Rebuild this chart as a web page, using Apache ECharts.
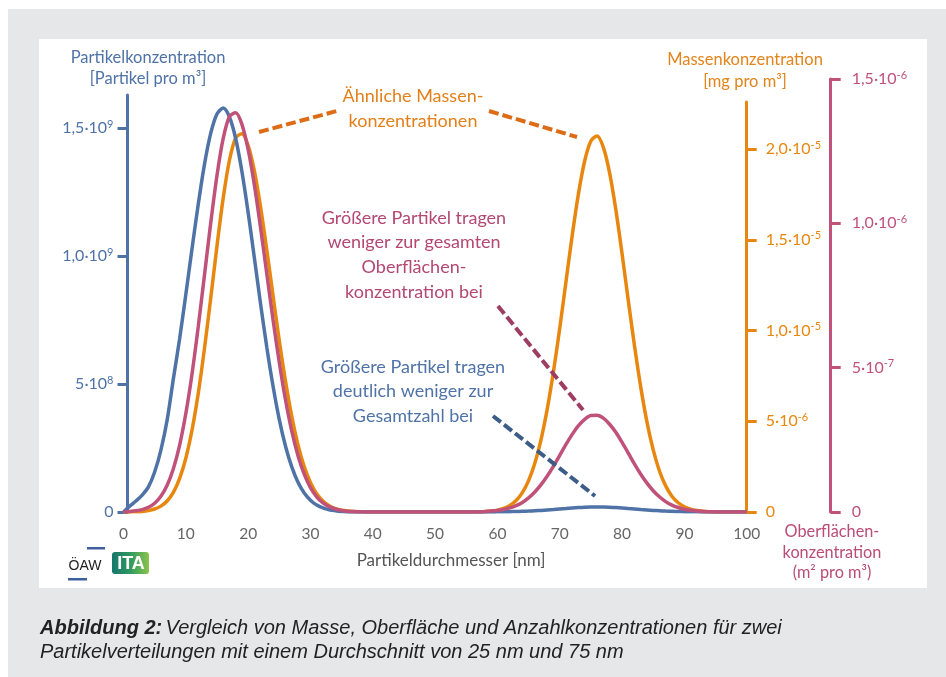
<!DOCTYPE html>
<html><head><meta charset="utf-8">
<script src="https://cdn.jsdelivr.net/npm/echarts@6/dist/echarts.min.js"></script>
<style>html,body{margin:0;padding:0;background:#fff}#c{width:946px;height:677px}</style>
</head><body><div id="c"></div>
<script>
// Particle diameter [nm]
const xValues = [0,1,2,3,4,5,6,7,8,9,10,11,12,13,14,15,16,17,18,19,20,21,22,23,24,25,26,27,28,29,30,31,32,33,34,35,36,37,38,39,40,41,42,43,44,45,46,47,48,49,50,51,52,53,54,55,56,57,58,59,60,61,62,63,64,65,66,67,68,69,70,71,72,73,74,75,76,77,78,79,80,81,82,83,84,85,86,87,88,89,90,91,92,93,94,95,96,97,98,99,100];
// Particle concentration, in units of 1e9 particles per m³
const countConc = [0,0.023,0.043,0.066,0.098,0.156,0.242,0.359,0.520,0.676,
 0.850,1.029,1.203,1.359,1.480,1.555,1.578,1.543,1.459,1.330,
 1.170,0.992,0.812,0.643,0.491,0.361,0.257,0.176,0.116,0.074,
 0.046,0.027,0.016,0.009,0.005,0.002,0,0,0,0,
 0,0,0,0,0,0,0,0,0,0,
 0,0,0,0,0,0,0,0,0,0,
 0.0005,0.0008,0.0012,0.0018,0.0027,0.0037,0.0049,0.0062,0.0080,0.0098,
 0.0118,0.0137,0.0156,0.0172,0.0185,0.0193,0.0195,0.0193,0.0185,0.0172,
 0.0156,0.0137,0.0118,0.0098,0.0080,0.0062,0.0049,0.0037,0.0027,0.0018,
 0.0013,0.0008,0.0005,0.0002,0,0,0,0,0,0,
 0];
// Mass concentration, in units of 1e-5 mg per m³
const massConc = [0,0.0006,0.0017,0.0033,0.0077,0.0165,0.0325,0.0606,0.1085,0.184,
 0.296,0.452,0.655,0.903,1.179,1.466,1.730,1.938,2.061,2.084,
 2.019,1.879,1.679,1.443,1.190,0.944,0.720,0.527,0.370,0.250,
 0.163,0.101,0.061,0.035,0.019,0.010,0.0055,0.0028,0.0011,0,
 0,0,0,0,0,0,0,0,0,0,
 0,0,0,0,0,0,0,0.001,0.0025,0.005,
 0.0105,0.0198,0.0364,0.0634,0.107,0.173,0.268,0.399,0.568,0.775,
 1.013,1.269,1.524,1.753,1.934,2.044,2.072,2.009,1.869,1.666,
 1.423,1.165,0.915,0.688,0.495,0.342,0.226,0.144,0.087,0.051,
 0.029,0.015,0.0077,0.0039,0.0017,0.0006,0,0,0,0,
 0];
// Surface concentration, in units of 1e-6 m² per m³
const surfConc = [0,0.0017,0.0042,0.0083,0.0163,0.0305,0.0544,0.0925,0.150,0.231,
 0.341,0.479,0.643,0.822,1.002,1.166,1.294,1.370,1.383,1.343,
 1.256,1.133,0.984,0.824,0.665,0.518,0.388,0.280,0.195,0.131,
 0.0845,0.0527,0.0315,0.0184,0.0104,0.0055,0.0028,0.0014,0.0007,0,
 0,0,0,0,0,0,0,0,0,0,
 0,0,0,0,0,0,0,0,0.0017,0.0035,
 0.0052,0.0087,0.0142,0.0222,0.0333,0.0488,0.0693,0.0946,0.1247,0.159,
 0.196,0.234,0.269,0.299,0.321,0.334,0.335,0.325,0.304,0.276,
 0.241,0.204,0.166,0.131,0.100,0.0738,0.0527,0.036,0.0239,0.0156,
 0.0097,0.0059,0.0035,0.0017,0.001,0.0003,0,0,0,0,
 0];

const xTicks = [0,10,20,30,40,50,60,70,80,90,100];
const countTicks = [0, 0.5, 1.0, 1.5];
const countTickLabels = [['0',''],['5·10','8'],['1,0·10','9'],['1,5·10','9']];
const massTicks = [0, 0.5, 1.0, 1.5, 2.0];
const massTickLabels = [['0',''],['5·10','-6'],['1,0·10','-5'],['1,5·10','-5'],['2,0·10','-5']];
const surfTicks = [0, 0.5, 1.0, 1.5];
const surfTickLabels = [['0',''],['5·10','-7'],['1,0·10','-6'],['1,5·10','-6']];

const BLUE = '#4f73a7', ORANGE = '#e8870f', PINK = '#c0527a';
const FONT = 'Lato';

function pairs(ys){ return xValues.map((x,i)=>[x, ys[i]]); }
function fmt(ticks, labels){
  return function(v){
    let i = ticks.findIndex(t => Math.abs(t - v) < 1e-9);
    if (i < 0) return '';
    const l = labels[i];
    return l[1] ? '{b|' + l[0] + '}{s|' + l[1] + '}' : '{b|' + l[0] + '}';
  };
}
function rich(c){
  return {
    b: {fontFamily: FONT, fontSize: 16, color: c, lineHeight: 19},
    s: {fontFamily: FONT, fontSize: 11, color: c, lineHeight: 12, verticalAlign: 'top'}
  };
}
const gridBase = {left: 123.5, right: 199.3, bottom: 165, outerBoundsMode: 'none'};

function yAx(grid, pos, max, ticks, labels, color, offset, margin){
  return {
    type: 'value', gridIndex: grid, position: pos, min: 0, max: max, offset: offset,
    axisLine: {show: true, onZero: false, lineStyle: {color: color, width: 3}},
    axisTick: {show: true, length: 10, lineStyle: {color: color, width: 3}, customValues: ticks},
    axisLabel: {show: true, margin: margin, customValues: ticks, formatter: fmt(ticks, labels), rich: rich(color)},
    splitLine: {show: false}
  };
}
function xAx(grid, show){
  return {
    type: 'value', gridIndex: grid, min: 0, max: 100, interval: 10, show: show,
    axisLine: {show: false, onZero: false}, axisTick: {show: false}, splitLine: {show: false},
    axisLabel: {show: show, margin: 14, color: '#666', fontFamily: FONT, fontSize: 15.5, customValues: xTicks}
  };
}
function dashed(color, p1, p2){
  return {
    silent: true, symbol: ['none','none'], label: {show: false},
    lineStyle: {color: color, width: 4, type: [10, 4]},
    data: [[{coord: p1}, {coord: p2}]]
  };
}

const option = {
  animation: false,
  backgroundColor: '#ffffff',
  grid: [
    Object.assign({top: 95}, gridBase),
    Object.assign({top: 102}, gridBase),
    Object.assign({top: 79}, gridBase)
  ],
  xAxis: [xAx(0, true), xAx(1, false), xAx(2, false)],
  yAxis: [
    yAx(0, 'left', 1.6289, countTicks, countTickLabels, BLUE, -4, 14),
    yAx(1, 'right', 2.259, massTicks, massTickLabels, ORANGE, 0, 19),
    yAx(2, 'right', 1.5, surfTicks, surfTickLabels, PINK, 84, 21)
  ],
  series: [
    {type: 'line', name: 'Masse', xAxisIndex: 1, yAxisIndex: 1, data: pairs(massConc), smooth: 0.3,
     showSymbol: false, lineStyle: {color: ORANGE, width: 3.5}, itemStyle: {color: ORANGE},
     markLine: {silent: true, symbol: ['none','none'], label: {show: false},
       lineStyle: {color: '#dc6c16', width: 4, type: [10, 4]},
       data: [[{coord: [21.74, 2.094]}, {coord: [34.26, 2.2095]}],
              [{coord: [58.65, 2.2095]}, {coord: [72.77, 2.066]}]]}},
    {type: 'line', name: 'Anzahl', xAxisIndex: 0, yAxisIndex: 0, data: pairs(countConc), smooth: 0.3,
     showSymbol: false, lineStyle: {color: BLUE, width: 3.5}, itemStyle: {color: BLUE},
     markLine: dashed('#3d5d88', [59.29, 0.375], [75.66, 0.0625])},
    {type: 'line', name: 'Oberfläche', xAxisIndex: 2, yAxisIndex: 2, data: pairs(surfConc), smooth: 0.3,
     showSymbol: false, lineStyle: {color: PINK, width: 3.5}, itemStyle: {color: PINK},
     markLine: dashed('#9d3d62', [60.09, 0.7136], [73.73, 0.3533])}
  ],
  graphic: [
    {type: 'rect', z: -100, shape: {x: 8, y: 9, width: 938, height: 668}, style: {fill: '#e6e7e8'}},
    {type: 'rect', z: -99, shape: {x: 39, y: 39, width: 888, height: 549}, style: {fill: '#ffffff'}},
    {type: 'text', style: {text: 'Partikelkonzentration\n[Partikel pro m³]', x: 148, y: 68.5, textAlign: 'center', textVerticalAlign: 'middle', fontFamily: FONT, fontSize: 16.5, lineHeight: 21, fill: BLUE}},
    {type: 'text', style: {text: 'Massenkonzentration\n[mg pro m³]', x: 745, y: 71, textAlign: 'center', textVerticalAlign: 'middle', fontFamily: FONT, fontSize: 16.5, lineHeight: 22, fill: '#e3841a'}},
    {type: 'text', style: {text: 'Oberflächen-\nkonzentration\n(m² pro m³)', x: 832, y: 552.5, textAlign: 'center', textVerticalAlign: 'middle', fontFamily: FONT, fontSize: 16.3, lineHeight: 20.5, fill: '#b94d74'}},
    {type: 'text', style: {text: 'Ähnliche Massen-\nkonzentrationen', x: 413, y: 108.5, textAlign: 'center', textVerticalAlign: 'middle', fontFamily: FONT, fontSize: 18, lineHeight: 25, fill: '#e3801a'}},
    {type: 'text', style: {text: 'Größere Partikel tragen\nweniger zur gesamten\nOberflächen-\nkonzentration bei', x: 414, y: 255, textAlign: 'center', textVerticalAlign: 'middle', fontFamily: FONT, fontSize: 18, lineHeight: 24.7, fill: '#b4486f'}},
    {type: 'text', style: {text: 'Größere Partikel tragen\ndeutlich weniger zur\nGesamtzahl bei', x: 413, y: 391.5, textAlign: 'center', textVerticalAlign: 'middle', fontFamily: FONT, fontSize: 18, lineHeight: 24.5, fill: BLUE}},
    {type: 'text', style: {text: 'Partikeldurchmesser [nm]', x: 451, y: 561, textAlign: 'center', textVerticalAlign: 'middle', fontFamily: FONT, fontSize: 17, fill: '#555'}},
    // logos
    {type: 'text', style: {text: 'ÖAW', x: 85, y: 566, textAlign: 'center', textVerticalAlign: 'middle', fontFamily: 'Liberation Sans', fontSize: 14, fill: '#222'}},
    {type: 'rect', shape: {x: 87, y: 547, width: 18, height: 2.5}, style: {fill: '#3c609c'}},
    {type: 'rect', shape: {x: 68, y: 578, width: 19, height: 2.5}, style: {fill: '#3c609c'}},
    {type: 'rect', shape: {x: 112, y: 552, width: 37, height: 22, r: 3}, style: {fill: new echarts.graphic.LinearGradient(0, 0, 1, 0, [{offset: 0, color: '#17766c'}, {offset: 0.5, color: '#2f9a5e'}, {offset: 1, color: '#8cc44c'}])}},
    {type: 'text', style: {text: 'ITA', x: 131, y: 564, textAlign: 'center', textVerticalAlign: 'middle', fontFamily: 'Liberation Sans', fontWeight: 'bold', fontSize: 18, fill: '#fff'}},
    // caption
    {type: 'text', style: {
      text: '{b|Abbildung 2:} {i|Vergleich von Masse, Oberfläche und Anzahlkonzentrationen für zwei}\n{i|Partikelverteilungen mit einem Durchschnitt von 25 nm und 75 nm}',
      x: 40, y: 640, textAlign: 'left', textVerticalAlign: 'middle', lineHeight: 24,
      rich: {
        b: {fontFamily: 'Liberation Sans', fontStyle: 'italic', fontWeight: 'bold', fontSize: 20, fill: '#222', lineHeight: 24},
        i: {fontFamily: 'Liberation Sans', fontStyle: 'italic', fontSize: 20, fill: '#222', lineHeight: 24}
      }}}
  ]
};
const chart = echarts.init(document.getElementById('c'), null, {renderer: 'canvas'});
chart.setOption(option);
</script></body></html>
